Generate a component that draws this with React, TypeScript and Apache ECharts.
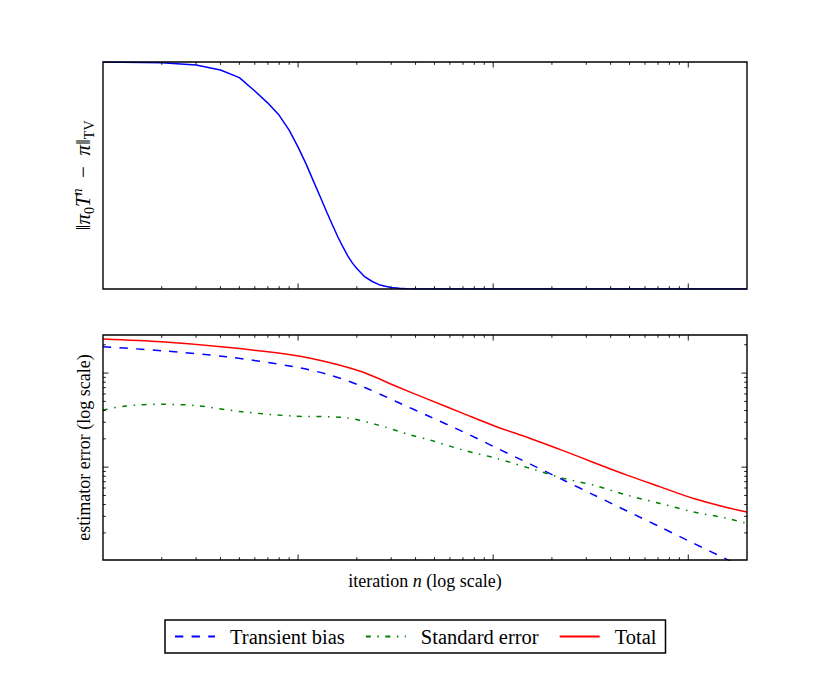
import React, { useEffect, useRef } from 'react';
import * as echarts from 'echarts';

// ---- data ----
const nMix = [1, 2, 3, 4, 5, 6, 7, 8, 9, 10, 11, 12, 13, 14, 15, 16, 17, 18, 19, 20, 22, 24, 26, 28, 30, 33, 36, 40, 50, 100, 1000, 2000];
const tvDistance = [1.0, 0.997, 0.987, 0.965, 0.931, 0.872, 0.819, 0.765, 0.7, 0.625, 0.55, 0.474, 0.405, 0.34, 0.282, 0.229, 0.184, 0.145, 0.114, 0.09, 0.053, 0.033, 0.019, 0.012, 0.0066, 0.0035, 0.0015, 0.0005, 0, 0, 0, 0];

const nBias = [1, 2, 4.3, 9.5, 14.6, 21.6, 32, 47.5, 70, 104, 155, 230, 327, 485, 718, 1065, 1578, 2000];
const transientBias = [1.905, 1.73, 1.49, 1.17, 0.953, 0.714, 0.495, 0.343, 0.238, 0.16, 0.1076, 0.0726, 0.0508, 0.0342, 0.0231, 0.0155, 0.01045, 0.00824];

const nStdErr = [1, 1.3, 2, 3, 5.2, 9.5, 17, 25, 37.5, 47.5, 70, 104, 155, 230, 327, 485, 718, 1065, 1578, 2000];
const standardError = [0.404, 0.446, 0.466, 0.451, 0.387, 0.349, 0.338, 0.285, 0.22, 0.194, 0.152, 0.124, 0.0969, 0.0758, 0.0644, 0.0504, 0.0411, 0.0334, 0.0286, 0.0252];

const nTotal = [1, 2, 4.3, 9.5, 14.6, 21.6, 32, 47.5, 70, 104, 155, 230, 327, 485, 718, 1065, 1578, 2000];
const totalError = [2.3, 2.15, 1.88, 1.55, 1.29, 1.02, 0.72, 0.516, 0.373, 0.269, 0.202, 0.149, 0.112, 0.0822, 0.0617, 0.0464, 0.0372, 0.0334];

const xMajorTicks = [10, 100, 1000];
const xMinorTicks = [2, 3, 4, 5, 6, 7, 8, 9, 20, 30, 40, 50, 60, 70, 80, 90, 200, 300, 400, 500, 600, 700, 800, 900];
const yMajorTicks = [0.1, 1];
const yMinorTicks = [0.02, 0.03, 0.04, 0.05, 0.06, 0.07, 0.08, 0.09, 0.2, 0.3, 0.4, 0.5, 0.6, 0.7, 0.8, 0.9, 2];

const seriesNames = ['Transient bias', 'Standard error', 'Total'];
const xLabel = 'iteration {i|n} (log scale)';
const yLabelTop = '‖{i|π}{s|0}{i|T}{p|n}  −  {i|π}‖{s|TV}';
const yLabelBottom = 'estimator error (log scale)';

const FONT = '"Liberation Serif", "DejaVu Serif", serif';

const zip = (xs: number[], ys: number[]) => xs.map((x, i) => [x, ys[i]]);

const MAJOR = 5.5;
const MINOR = 2.8;
const tickStyle = { stroke: '#000', lineWidth: 0.9 };

// draws the frame (on top of the lines) and the inward x ticks on top and bottom
function xTickSeries(idx: number, yRef: number) {
  return {
    type: 'custom',
    xAxisIndex: idx,
    yAxisIndex: idx,
    silent: true,
    z: 5,
    data: [...xMajorTicks.map((v) => [v, yRef, 1]), ...xMinorTicks.map((v) => [v, yRef, 0])],
    renderItem: (params: any, api: any) => {
      const cs = params.coordSys;
      const px = api.coord([api.value(0), yRef])[0];
      const len = api.value(2) ? MAJOR : MINOR;
      const bottom = cs.y + cs.height;
      const children: any[] = [
        { type: 'line', shape: { x1: px, y1: bottom, x2: px, y2: bottom - len }, style: tickStyle },
        { type: 'line', shape: { x1: px, y1: cs.y, x2: px, y2: cs.y + len }, style: tickStyle },
      ];
      if (params.dataIndex === 0) {
        children.push({
          type: 'rect',
          shape: { x: cs.x, y: cs.y, width: cs.width, height: cs.height },
          style: { fill: 'none', stroke: '#000', lineWidth: 1.4 },
        });
      }
      return { type: 'group', children };
    },
  };
}

function yTickSeries(idx: number, xRef: number) {
  return {
    type: 'custom',
    xAxisIndex: idx,
    yAxisIndex: idx,
    silent: true,
    z: 5,
    data: [...yMajorTicks.map((v) => [xRef, v, 1]), ...yMinorTicks.map((v) => [xRef, v, 0])],
    renderItem: (params: any, api: any) => {
      const cs = params.coordSys;
      const py = api.coord([xRef, api.value(1)])[1];
      const len = api.value(2) ? MAJOR : MINOR;
      const right = cs.x + cs.width;
      return {
        type: 'group',
        children: [
          { type: 'line', shape: { x1: cs.x, y1: py, x2: cs.x + len, y2: py }, style: tickStyle },
          { type: 'line', shape: { x1: right, y1: py, x2: right - len, y2: py }, style: tickStyle },
        ],
      };
    },
  };
}

const hiddenAxis = {
  axisLine: { show: false },
  axisTick: { show: false },
  axisLabel: { show: false },
  splitLine: { show: false },
};

const nameStyle = { fontFamily: FONT, fontSize: 18, color: '#000' };

export default function App() {
  const ref = useRef<HTMLDivElement>(null);
  useEffect(() => {
    if (!ref.current) return;
    const chart = echarts.init(ref.current, undefined, { renderer: 'svg' });
    chart.setOption({
      animation: false,
      backgroundColor: '#fff',
      grid: [
        { left: 103, top: 62, width: 644, height: 227, show: false },
        { left: 103, top: 335, width: 644, height: 225, show: false },
      ],
      xAxis: [
        { type: 'log', logBase: 10, gridIndex: 0, min: 1, max: 2000, ...hiddenAxis },
        {
          type: 'log', logBase: 10, gridIndex: 1, min: 1, max: 2000, ...hiddenAxis,
          name: xLabel, nameLocation: 'middle', nameGap: 12,
          nameTextStyle: { ...nameStyle, rich: { i: { ...nameStyle, fontStyle: 'italic' } } },
        },
      ],
      yAxis: [
        {
          type: 'value', gridIndex: 0, min: 0, max: 1, ...hiddenAxis,
          name: yLabelTop, nameLocation: 'middle', nameRotate: 90, nameGap: 7,
          nameTextStyle: {
            fontFamily: FONT, fontSize: 21, color: '#000', lineHeight: 26,
            rich: {
              i: { fontFamily: FONT, fontSize: 21, color: '#000', fontStyle: 'italic', lineHeight: 26 },
              s: { fontFamily: FONT, fontSize: 14, color: '#000', lineHeight: 13, verticalAlign: 'bottom' },
              p: { fontFamily: FONT, fontSize: 14, color: '#000', fontStyle: 'italic', lineHeight: 13, verticalAlign: 'top' },
            },
          },
        },
        {
          type: 'log', logBase: 10, gridIndex: 1, min: 0.0103, max: 2.54, ...hiddenAxis,
          name: yLabelBottom, nameLocation: 'middle', nameRotate: 90, nameGap: 10,
          nameTextStyle: nameStyle,
        },
      ],
      legend: {
        data: seriesNames,
        left: 165,
        top: 620,
        orient: 'horizontal',
        itemWidth: 40,
        itemHeight: 12,
        itemGap: 20,
        padding: [6, 9, 6, 9],
        borderColor: '#000',
        borderWidth: 1.5,
        borderRadius: 0,
        selectedMode: false,
        itemStyle: { opacity: 0 },
        textStyle: { fontFamily: FONT, fontSize: 20.5, color: '#000', padding: [0, 0, 0, 10] },
      },
      series: [
        {
          name: 'mixing', type: 'line', xAxisIndex: 0, yAxisIndex: 0, data: zip(nMix, tvDistance),
          symbol: 'none', clip: true, lineStyle: { color: '#0000ff', width: 1.5 }, z: 3,
        },
        {
          name: seriesNames[0], type: 'line', xAxisIndex: 1, yAxisIndex: 1, data: zip(nBias, transientBias),
          symbol: 'none', clip: true, smooth: 0.3, itemStyle: { color: '#0000ff' },
          lineStyle: { color: '#0000ff', width: 1.5, type: [8.3, 8.3] }, z: 3,
        },
        {
          name: seriesNames[1], type: 'line', xAxisIndex: 1, yAxisIndex: 1, data: zip(nStdErr, standardError),
          symbol: 'none', clip: true, smooth: 0.3, itemStyle: { color: '#008000' },
          lineStyle: { color: '#008000', width: 1.5, type: [5, 6.5, 1.5, 6.5] }, z: 3,
        },
        {
          name: seriesNames[2], type: 'line', xAxisIndex: 1, yAxisIndex: 1, data: zip(nTotal, totalError),
          symbol: 'none', clip: true, smooth: 0.3, itemStyle: { color: '#ff0000' },
          lineStyle: { color: '#ff0000', width: 1.5 }, z: 3,
        },
        xTickSeries(0, 0.5),
        xTickSeries(1, 1),
        yTickSeries(1, 10),
      ],
    });
    return () => chart.dispose();
  }, []);
  return <div ref={ref} style={{ position: 'absolute', left: 0, top: 0, width: 830, height: 675 }} />;
}
